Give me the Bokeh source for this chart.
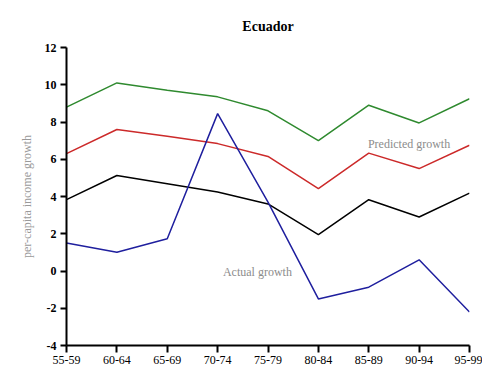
from bokeh.plotting import figure
from bokeh.models import Range1d, FixedTicker, Label
from bokeh.embed import file_html
from bokeh.resources import INLINE

# Five-year periods and growth series (per-capita income growth, %)
periods = ["55-59", "60-64", "65-69", "70-74", "75-79", "80-84", "85-89", "90-94", "95-99"]
upper_band = [8.8, 10.1, 9.7, 9.35, 8.6, 7.0, 8.9, 7.95, 9.25]
predicted = [6.3, 7.6, 7.23, 6.84, 6.15, 4.42, 6.33, 5.5, 6.75]
lower_band = [3.83, 5.13, 4.69, 4.24, 3.6, 1.95, 3.83, 2.9, 4.18]
actual = [1.5, 1.01, 1.73, 8.45, 3.7, -1.5, -0.87, 0.6, -2.2]
y_ticks = [-4, -2, 0, 2, 4, 6, 8, 10, 12]

xs = list(range(len(periods)))
SERIF = "Liberation Serif"

p = figure(
    width=482, height=374,
    x_range=Range1d(0, len(periods) - 1),
    y_range=Range1d(-4, 12),
    output_backend="svg", toolbar_location=None,
    min_border_left=66, min_border_right=13,
    min_border_top=47, min_border_bottom=29,
)
p.outline_line_color = None
p.xgrid.visible = False
p.ygrid.visible = False
p.background_fill_color = "white"
p.border_fill_color = "white"

p.title.text = "Ecuador"
p.title.align = "center"
p.title.text_font = SERIF
p.title.text_font_size = "14px"
p.title.text_font_style = "bold"
p.title.text_color = "black"
p.title.offset = 0
p.title.standoff = 27

p.line(xs, upper_band, line_color="#2f8a2f", line_width=1.5)
p.line(xs, predicted, line_color="#cc2a2a", line_width=1.5)
p.line(xs, lower_band, line_color="black", line_width=1.5)
p.line(xs, actual, line_color="#1f1f9e", line_width=1.5)

# axes
p.xaxis.ticker = FixedTicker(ticks=xs)
p.xaxis.major_label_overrides = {i: lab for i, lab in enumerate(periods)}
p.yaxis.ticker = FixedTicker(ticks=y_ticks)
p.yaxis.major_label_overrides = {t: str(t) for t in y_ticks}
for ax in (p.xaxis, p.yaxis):
    ax.axis_line_width = 2
    ax.axis_line_color = "black"
    ax.major_tick_line_width = 2
    ax.major_tick_line_color = "black"
    ax.minor_tick_line_color = None
    ax.major_tick_in = 0
    ax.major_label_text_font = SERIF
    ax.major_label_text_font_size = "12px"
    ax.major_label_text_color = "black"
p.xaxis.major_tick_out = 7
p.xaxis.major_label_standoff = 3
p.yaxis.major_tick_out = 6
p.yaxis.major_label_standoff = 4
p.yaxis.major_label_text_font_style = "bold"

p.yaxis.axis_label = "per-capita income growth"
p.yaxis.axis_label_text_font = SERIF
p.yaxis.axis_label_text_font_size = "12px"
p.yaxis.axis_label_text_font_style = "normal"
p.yaxis.axis_label_text_color = "#9a9a9a"
p.yaxis.axis_label_standoff = 8

# series annotations
p.add_layout(Label(x=6.8, y=6.8, text="Predicted growth", text_font=SERIF,
                   text_font_size="12px", text_align="center",
                   text_baseline="middle", text_color="#8c8c8c"))
p.add_layout(Label(x=3.79, y=-0.03, text="Actual growth", text_font=SERIF,
                   text_font_size="12px", text_align="center",
                   text_baseline="middle", text_color="#8c8c8c"))

open("out.html", "w").write(file_html(p, INLINE))
